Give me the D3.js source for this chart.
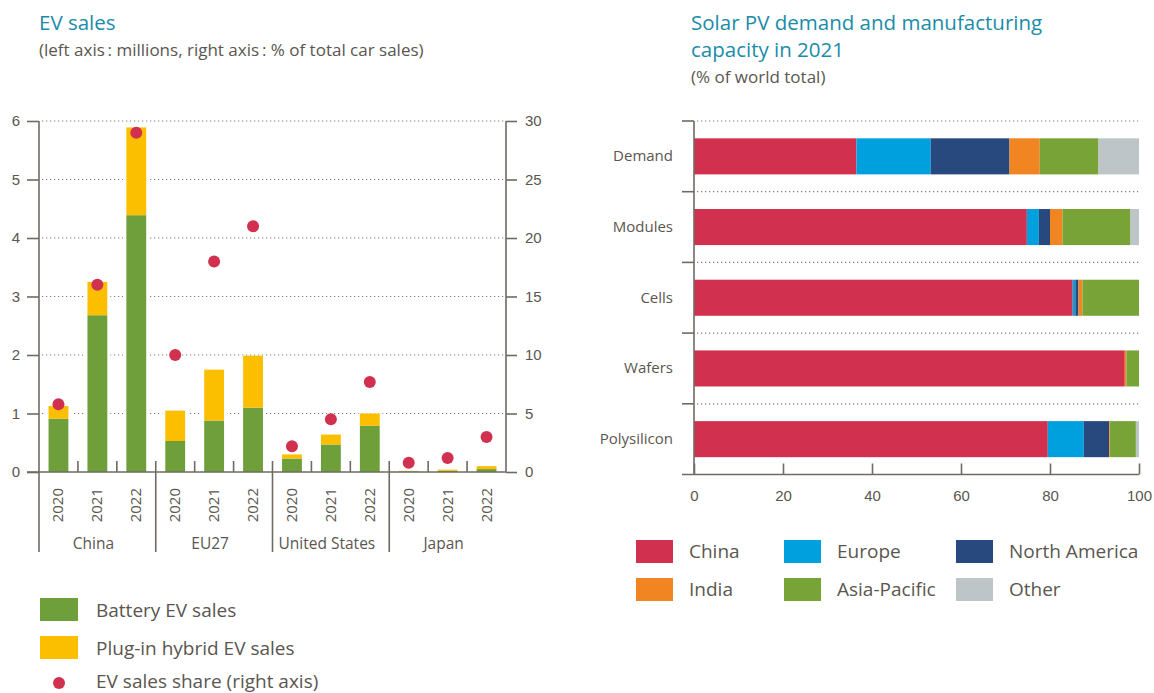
<!DOCTYPE html>
<meta charset="utf-8">
<style>
body { margin: 0; background: #fff; }
svg { display: block; font-family: "Open Sans", sans-serif; }
.title { fill: #1a8ca8; font-size: 20.5px; }
.sub { fill: #5a5650; font-size: 17px; }
.tick text { fill: #5a5650; font-size: 15px; }
.legend text { fill: #5a5650; font-size: 19px; }
.axisline { stroke: #6f6b63; stroke-width: 1.6; fill: none; }
.grid { stroke: #7d7a74; stroke-width: 1.2; stroke-dasharray: 1.2 2.8; }
</style>
<svg id="chart" width="1154" height="693"></svg>
<script src="https://cdnjs.cloudflare.com/ajax/libs/d3/7.8.5/d3.min.js"></script>
<script>

// EV sales (millions) and share (% of total car sales)
var regions = ["China", "EU27", "United States", "Japan"];
var years = ["2020", "2021", "2022"];
var bevSales  = [0.91, 2.68, 4.39,  0.53, 0.88, 1.10,  0.23, 0.47, 0.79,  0.01, 0.02, 0.05];
var phevSales = [0.22, 0.57, 1.50,  0.52, 0.87, 0.89,  0.07, 0.17, 0.21,  0.01, 0.02, 0.05];
var evShare   = [5.8, 16.0, 29.0,  10.0, 18.0, 21.0,  2.2, 4.5, 7.7,  0.8, 1.2, 3.0];
var leftTicks = [0, 1, 2, 3, 4, 5, 6];
var rightTicks = [0, 5, 10, 15, 20, 25, 30];

// Solar PV (% of world total)
var stages = ["Demand", "Modules", "Cells", "Wafers", "Polysilicon"];
var pvChina        = [36.5, 74.8, 85.1, 96.8, 79.5];
var pvEurope       = [16.7,  2.7,  0.6,  0.0,  8.1];
var pvNorthAmerica = [17.7,  2.5,  0.7,  0.0,  5.7];
var pvIndia        = [ 6.8,  2.8,  0.9,  0.4,  0.2];
var pvAsiaPacific  = [13.2, 15.3, 12.7,  2.8,  5.8];
var pvOther        = [ 9.1,  1.9,  0.0,  0.0,  0.7];
var pvTicks = [0, 20, 40, 60, 80, 100];

var svg = d3.select("#chart");
var green = "#6f9f3a", yellow = "#fbbf00", red = "#d1314f";

// ---------- left: EV sales ----------
var slots = [];
regions.forEach(function(r) { years.forEach(function(y) { slots.push(r + "|" + y); }); });

var x = d3.scaleBand().domain(slots).range([39, 506]);
var y = d3.scaleLinear().domain([0, 6]).range([472, 121]);
var y2 = d3.scaleLinear().domain([0, 30]).range([472, 121]);
var barW = x.bandwidth() * 0.51;

svg.append("text").attr("class", "title").attr("x", 39).attr("y", 30).text("EV sales");
svg.append("text").attr("class", "sub").attr("x", 39).attr("y", 56)
  .text("(left axis\u2009: millions, right axis\u2009: % of total car sales)");

var ev = svg.append("g");

// dotted grid
ev.selectAll(".grid").data(leftTicks.slice(1)).enter().append("line")
  .attr("class", "grid")
  .attr("x1", 42).attr("x2", 506)
  .attr("y1", function(d) { return y(d); }).attr("y2", function(d) { return y(d); });

var evRows = slots.map(function(s, i) {
  return { key: s, bev: bevSales[i], phev: phevSales[i], share: evShare[i] };
});

// white halo so the grid stops short of each bar
ev.selectAll(".halo").data(evRows).enter().append("rect")
  .attr("x", function(d) { return x(d.key) + (x.bandwidth() - barW) / 2 - 3; })
  .attr("width", barW + 6)
  .attr("y", function(d) { return y(d.bev + d.phev); })
  .attr("height", function(d) { return y(0) - y(d.bev + d.phev); })
  .attr("fill", "#fff");

ev.selectAll(".bev").data(evRows).enter().append("rect")
  .attr("x", function(d) { return x(d.key) + (x.bandwidth() - barW) / 2; })
  .attr("width", barW)
  .attr("y", function(d) { return y(d.bev); })
  .attr("height", function(d) { return y(0) - y(d.bev); })
  .attr("fill", green);

ev.selectAll(".phev").data(evRows).enter().append("rect")
  .attr("x", function(d) { return x(d.key) + (x.bandwidth() - barW) / 2; })
  .attr("width", barW)
  .attr("y", function(d) { return y(d.bev + d.phev); })
  .attr("height", function(d) { return y(d.bev) - y(d.bev + d.phev); })
  .attr("fill", yellow);

ev.selectAll(".dot").data(evRows).enter().append("circle")
  .attr("cx", function(d) { return x(d.key) + x.bandwidth() / 2; })
  .attr("cy", function(d) { return y2(d.share); })
  .attr("r", 6)
  .attr("fill", red);

// axes
var leftAxis = ev.append("g").attr("transform", "translate(39,0)")
  .call(d3.axisLeft(y).tickValues(leftTicks).tickSize(12).tickPadding(7).tickFormat(d3.format("d")));
leftAxis.select(".domain").remove();
leftAxis.selectAll(".tick line").attr("class", "axisline");

var rightAxis = ev.append("g").attr("transform", "translate(506,0)")
  .call(d3.axisRight(y2).tickValues(rightTicks).tickSize(11).tickPadding(8).tickFormat(d3.format("d")));
rightAxis.select(".domain").remove();
rightAxis.selectAll(".tick line").attr("class", "axisline");

ev.append("line").attr("class", "axisline").attr("x1", 39).attr("x2", 39).attr("y1", 121).attr("y2", 552);
ev.append("line").attr("class", "axisline").attr("x1", 506).attr("x2", 506).attr("y1", 121).attr("y2", 472);
ev.append("line").attr("class", "axisline").attr("x1", 27).attr("x2", 506).attr("y1", 472).attr("y2", 472);

// year labels
ev.selectAll(".yr").data(slots).enter().append("text")
  .attr("transform", function(d) {
    return "translate(" + (x(d) + x.bandwidth() / 2 + 5) + ",488) rotate(-90)";
  })
  .attr("text-anchor", "end")
  .style("font-size", "15px").style("fill", "#5a5650")
  .text(function(d) { return d.split("|")[1]; });

// separators between bars and between regions
slots.forEach(function(s, i) {
  if (i === 0) return;
  var xb = x(s);
  var groupStart = i % years.length === 0;
  ev.append("line").attr("class", "axisline")
    .attr("x1", xb).attr("x2", xb)
    .attr("y1", 461).attr("y2", groupStart ? 552 : 472);
});

ev.selectAll(".region").data(regions).enter().append("text")
  .attr("x", function(r) {
    return (x(r + "|" + years[0]) + x(r + "|" + years[2]) + x.bandwidth()) / 2 - 4;
  })
  .attr("y", 549)
  .attr("text-anchor", "middle")
  .style("font-size", "15.5px").style("fill", "#5a5650")
  .text(function(r) { return r; });

// legend
var evLegend = svg.append("g").attr("class", "legend");
evLegend.append("rect").attr("x", 40).attr("y", 598).attr("width", 38).attr("height", 23).attr("fill", green);
evLegend.append("rect").attr("x", 40).attr("y", 636).attr("width", 38).attr("height", 23).attr("fill", yellow);
evLegend.append("circle").attr("cx", 59).attr("cy", 683).attr("r", 6).attr("fill", red);
evLegend.append("text").attr("x", 96).attr("y", 617).text("Battery EV sales");
evLegend.append("text").attr("x", 96).attr("y", 655).text("Plug-in hybrid EV sales");
evLegend.append("text").attr("x", 96).attr("y", 688).text("EV sales share (right axis)");

// ---------- right: Solar PV ----------
var pvKeys = ["China", "Europe", "North America", "India", "Asia-Pacific", "Other"];
var pvColors = ["#d1314f", "#00a0df", "#28497e", "#f08522", "#78a337", "#bec5c8"];
var pvSeries = [pvChina, pvEurope, pvNorthAmerica, pvIndia, pvAsiaPacific, pvOther];
var pvRows = stages.map(function(s, i) {
  var row = { stage: s };
  pvKeys.forEach(function(k, j) { row[k] = pvSeries[j][i]; });
  return row;
});

var px = d3.scaleLinear().domain([0, 100]).range([694, 1139]);
var py = d3.scaleBand().domain(stages).range([121, 474.5]).paddingInner(0.49).paddingOuter(0.245);
var color = d3.scaleOrdinal().domain(pvKeys).range(pvColors);
var step = py.step();

svg.append("text").attr("class", "title").attr("x", 691).attr("y", 30).text("Solar PV demand and manufacturing");
svg.append("text").attr("class", "title").attr("x", 691).attr("y", 57).text("capacity in 2021");
svg.append("text").attr("class", "sub").attr("x", 691).attr("y", 83).text("(% of world total)");

var pv = svg.append("g");

var bounds = stages.map(function(s) { return py(s) - py.paddingOuter() * step; });
pv.selectAll(".grid").data(bounds).enter().append("line")
  .attr("class", "grid")
  .attr("x1", 697).attr("x2", 1140)
  .attr("y1", function(d) { return d; }).attr("y2", function(d) { return d; });
pv.selectAll(".ytick").data(bounds).enter().append("line")
  .attr("class", "axisline")
  .attr("x1", 682).attr("x2", 694)
  .attr("y1", function(d) { return d; }).attr("y2", function(d) { return d; });

var stacked = d3.stack().keys(pvKeys)(pvRows);
pv.selectAll(".layer").data(stacked).enter().append("g")
  .attr("fill", function(d) { return color(d.key); })
  .selectAll("rect").data(function(d) { return d; }).enter().append("rect")
  .attr("x", function(d) { return px(d[0]); })
  .attr("width", function(d) { return px(d[1]) - px(d[0]); })
  .attr("y", function(d) { return py(d.data.stage); })
  .attr("height", py.bandwidth());

var bottomAxis = pv.append("g").attr("transform", "translate(0,474.5)")
  .call(d3.axisTop(px).tickValues(pvTicks).tickSize(11).tickFormat(d3.format("d")));
bottomAxis.select(".domain").remove();
bottomAxis.selectAll(".tick line").attr("class", "axisline");
bottomAxis.selectAll(".tick text").attr("y", 26).attr("dy", 0);

pv.append("line").attr("class", "axisline").attr("x1", 694).attr("x2", 694).attr("y1", 121).attr("y2", 474.5);
pv.append("line").attr("class", "axisline").attr("x1", 682).attr("x2", 1139).attr("y1", 474.5).attr("y2", 474.5);

pv.selectAll(".stage").data(stages).enter().append("text")
  .attr("x", 673)
  .attr("y", function(s) { return py(s) + py.bandwidth() / 2 + 5; })
  .attr("text-anchor", "end")
  .style("font-size", "15px").style("fill", "#5a5650")
  .text(function(s) { return s; });

// legend
var legX = [636, 784, 956];
var legY = [540, 578];
var pvLegend = svg.append("g").attr("class", "legend")
  .selectAll("g").data(pvKeys).enter().append("g")
  .attr("transform", function(k, i) {
    return "translate(" + legX[i % 3] + "," + legY[Math.floor(i / 3)] + ")";
  });
pvLegend.append("rect").attr("width", 37).attr("height", 23).attr("fill", function(k) { return color(k); });
pvLegend.append("text").attr("x", 53).attr("y", 18).text(function(k) { return k; });

</script>
